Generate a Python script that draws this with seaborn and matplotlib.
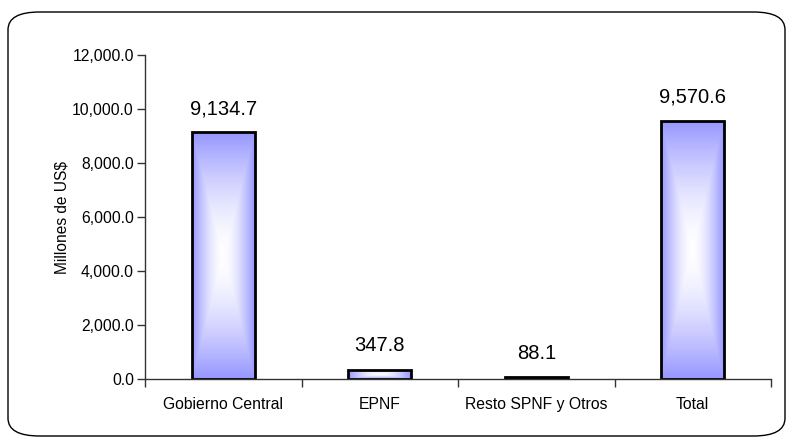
import numpy as np
import pandas as pd
import matplotlib
matplotlib.use("Agg")
import matplotlib.pyplot as plt
import seaborn as sns
from matplotlib.patches import FancyBboxPatch
from matplotlib.ticker import FuncFormatter, FixedLocator

categories = ["Gobierno Central", "EPNF", "Resto SPNF y Otros", "Total"]
values = [9134.7, 347.8, 88.1, 9570.6]
value_labels = ["9,134.7", "347.8", "88.1", "9,570.6"]
y_ticks = [0, 2000, 4000, 6000, 8000, 10000, 12000]
y_label = "Millones de US$"

sns.set_theme(style="white")
plt.rcParams["font.family"] = ["Liberation Sans", "DejaVu Sans"]

df = pd.DataFrame({"cat": categories, "val": values})

fig = plt.figure(figsize=(7.9, 4.44), dpi=100)
ax = fig.add_axes([145 / 790, 1 - 379 / 444, (771 - 145) / 790, (379 - 55) / 444])

sns.barplot(data=df, x="cat", y="val", color="#9999FF", width=0.4,
            edgecolor="black", linewidth=2.0, saturation=1, ax=ax)

# gradient fill (white centre, blue edges) clipped to each bar
blue = np.array([150, 150, 255]) / 255.0
n = 200
u = np.linspace(-1, 1, n)
U, V = np.meshgrid(u, u)
T = np.maximum(np.abs(U), np.abs(V))
T = np.clip(T, 0, 1) ** 1.6
img = (1 - T)[..., None] * np.array([1.0, 1.0, 1.0]) + T[..., None] * blue
for p in ax.patches:
    x0, y0, w, h = p.get_x(), p.get_y(), p.get_width(), p.get_height()
    im = ax.imshow(img, extent=[x0, x0 + w, y0, y0 + h], aspect="auto",
                   zorder=p.get_zorder() + 0.1, interpolation="bilinear")
    im.set_clip_path(p)
    p.set_facecolor("none")
    p.set_zorder(p.get_zorder() + 0.2)

for i, (v, lab) in enumerate(zip(values, value_labels)):
    ax.annotate(lab, (i, v), xytext=(0, 17), textcoords="offset points",
                ha="center", va="center", fontsize=14.5, color="black")

ax.set_xlim(-0.5, 3.5)
ax.set_ylim(0, 12000)
ax.set_yticks(y_ticks)
ax.yaxis.set_major_formatter(FuncFormatter(lambda x, _: f"{x:,.1f}"))
ax.set_xlabel("")
ax.set_ylabel(y_label, fontsize=11.2, labelpad=2, color="black")
ax.tick_params(axis="y", which="major", length=6, width=1, color="#333333",
               labelsize=11.3, left=True, direction="out", pad=2,
               labelcolor="black")
ax.tick_params(axis="x", which="major", length=0, labelsize=11.3, pad=13,
               labelcolor="black")
ax.xaxis.set_minor_locator(FixedLocator([-0.5, 0.5, 1.5, 2.5, 3.5]))
ax.tick_params(axis="x", which="minor", length=6, width=1, color="#333333",
               bottom=True, direction="out")
for s in ["top", "right"]:
    ax.spines[s].set_visible(False)
for s in ["left", "bottom"]:
    ax.spines[s].set_color("#333333")
    ax.spines[s].set_linewidth(1)
ax.grid(False)
ax.set_facecolor("white")

frame = FancyBboxPatch((8 / 790, 8 / 444), (785 - 8) / 790, (432 - 8) / 444,
                       boxstyle="round,pad=0,rounding_size=0.04",
                       transform=fig.transFigure, facecolor="none",
                       edgecolor="black", linewidth=1.0, zorder=0)
fig.patches.append(frame)

fig.savefig("out.png", dpi=100, facecolor="white")
